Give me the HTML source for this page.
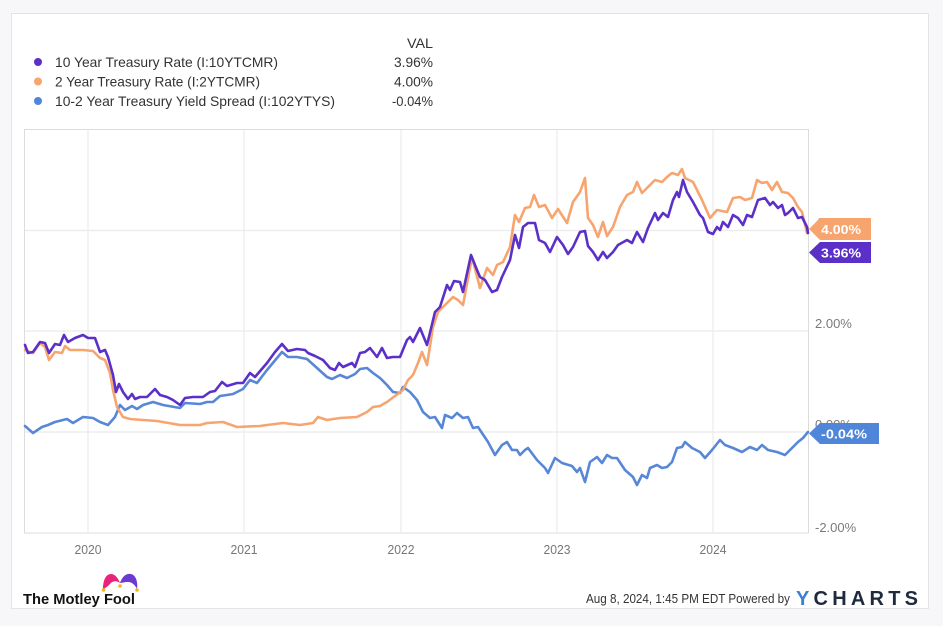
<!DOCTYPE html>
<html>
<head>
<meta charset="utf-8">
<style>
  html, body { margin: 0; padding: 0; background: #f7f7f9; }
  svg { display: block; }
  text { font-family: "Liberation Sans", "DejaVu Sans", sans-serif; }
</style>
</head>
<body>
<svg width="943" height="626" viewBox="0 0 943 626" xmlns="http://www.w3.org/2000/svg">
  <rect x="0" y="0" width="943" height="626" fill="#f7f7f9"/>
  <rect x="11.5" y="13.5" width="917" height="595" fill="#ffffff" stroke="#e4e4e6" stroke-width="1"/>

  <!-- Legend -->
  <text x="433" y="48" font-size="13.5" fill="#333" text-anchor="end" textLength="26" lengthAdjust="spacingAndGlyphs">VAL</text>
  <circle cx="38" cy="62" r="4" fill="#5b30c8"/>
  <text x="55" y="67" font-size="14" fill="#333" textLength="223" lengthAdjust="spacingAndGlyphs">10 Year Treasury Rate (I:10YTCMR)</text>
  <text x="433" y="67" font-size="13.5" fill="#333" text-anchor="end" textLength="39" lengthAdjust="spacingAndGlyphs">3.96%</text>
  <circle cx="38" cy="81.5" r="4" fill="#f8a46e"/>
  <text x="55" y="86.5" font-size="14" fill="#333" textLength="205" lengthAdjust="spacingAndGlyphs">2 Year Treasury Rate (I:2YTCMR)</text>
  <text x="433" y="86.5" font-size="13.5" fill="#333" text-anchor="end" textLength="39" lengthAdjust="spacingAndGlyphs">4.00%</text>
  <circle cx="38" cy="101" r="4" fill="#4f86d9"/>
  <text x="55" y="106" font-size="14" fill="#333" textLength="280" lengthAdjust="spacingAndGlyphs">10-2 Year Treasury Yield Spread (I:102YTYS)</text>
  <text x="433" y="106" font-size="13.5" fill="#333" text-anchor="end" textLength="41" lengthAdjust="spacingAndGlyphs">-0.04%</text>

  <!-- Plot frame -->
  <rect x="24.5" y="129.5" width="784" height="403.5" fill="#ffffff" stroke="#dcdcdc" stroke-width="1"/>
  <!-- gridlines -->
  <g stroke="#ebebeb" stroke-width="1.2">
    <line x1="25" y1="230.5" x2="808" y2="230.5"/>
    <line x1="25" y1="331" x2="808" y2="331"/>
    <line x1="25" y1="432" x2="808" y2="432"/>
    <line x1="88" y1="130" x2="88" y2="532"/>
    <line x1="244" y1="130" x2="244" y2="532"/>
    <line x1="401" y1="130" x2="401" y2="532"/>
    <line x1="557" y1="130" x2="557" y2="532"/>
    <line x1="713" y1="130" x2="713" y2="532"/>
  </g>

  <!-- Right axis labels -->
  <g font-size="13" fill="#7a7a7a">
    <text x="815" y="227">4.00%</text>
    <text x="815" y="328">2.00%</text>
    <text x="815" y="429">0.00%</text>
    <text x="815" y="532">-2.00%</text>
  </g>

  <!-- Year labels -->
  <g font-size="13" fill="#777" text-anchor="middle">
    <text x="88" y="554" textLength="27" lengthAdjust="spacingAndGlyphs">2020</text>
    <text x="244" y="554" textLength="27" lengthAdjust="spacingAndGlyphs">2021</text>
    <text x="401" y="554" textLength="27" lengthAdjust="spacingAndGlyphs">2022</text>
    <text x="557" y="554" textLength="27" lengthAdjust="spacingAndGlyphs">2023</text>
    <text x="713" y="554" textLength="27" lengthAdjust="spacingAndGlyphs">2024</text>
  </g>

  <!-- Series -->
  <g fill="none" stroke-width="2.6" stroke-linejoin="round" stroke-linecap="round">
    <polyline stroke="#5887d6" points="25,426 33,433 42,427 48,425 55,422 67,419 73,423 83,417 93,418 100,422 108,425 115,417 120,405 125,410 132,406 137,409 143,405 153,402 163,405 180,408 185,403 200,404 207,402 213,402 220,396 227,395 233,394 243,389 250,380 257,383 267,370 277,358 282,352 288,357 297,357 307,359 317,368 327,377 332,379 340,375 347,378 355,374 360,369 367,368 373,373 380,378 387,385 393,392 400,393 403,387 410,392 417,400 423,412 430,418 435,417 442,428 445,415 452,418 457,413 463,418 468,417 473,428 478,427 488,442 495,455 502,445 507,442 512,450 517,450 520,455 525,450 528,448 537,460 545,468 548,473 555,458 562,463 572,466 577,472 580,468 585,482 590,462 597,457 602,463 607,455 612,458 617,458 625,470 633,477 637,485 642,475 647,478 650,468 657,465 662,468 667,467 672,462 677,448 682,447 685,442 692,448 700,452 705,458 712,450 720,440 725,445 733,448 742,452 750,447 757,450 762,445 768,450 777,452 785,455 792,448 798,442 803,438 808,432"/>
    <polyline stroke="#f8a46e" points="25,350 30,352 33,353 40,343 45,347 49,360 55,352 62,353 65,346 70,350 83,350 93,351 100,358 105,360 110,373 113,390 117,407 123,417 130,419 143,420 157,421 180,425 200,425 207,423 223,422 237,427 260,426 267,425 283,423 300,425 313,423 318,417 327,420 340,418 357,417 367,412 373,407 380,406 387,402 395,396 403,390 408,380 413,375 418,363 422,352 427,365 433,327 438,312 445,305 453,297 458,300 463,305 472,257 480,288 487,268 493,275 497,265 503,262 510,247 515,215 519,222 525,208 530,207 534,195 539,207 545,205 552,218 558,209 567,223 573,202 580,192 585,178 588,218 593,225 598,237 603,222 607,236 613,227 620,207 627,195 633,192 637,182 642,193 648,187 655,180 662,182 667,177 672,173 678,175 682,169 685,178 693,182 702,200 710,218 717,210 727,212 733,198 740,197 745,200 752,198 757,180 762,183 767,182 772,190 777,182 782,192 788,193 793,198 798,207 802,212 807,233 808,229"/>
    <polyline stroke="#5b30c8" points="25,345 28,353 33,352 40,342 45,343 49,353 55,344 60,345 64,335 68,342 75,338 83,335 88,338 95,338 100,352 105,350 108,357 113,375 116,392 119,384 123,392 128,399 132,394 135,399 140,397 147,397 155,389 160,395 167,397 173,400 180,405 185,398 193,397 203,397 210,392 215,391 222,382 227,386 237,383 243,383 250,373 255,377 267,363 275,352 282,344 288,351 297,349 305,350 308,353 315,356 323,360 330,368 335,370 339,363 343,367 352,363 355,367 360,353 365,352 370,348 377,357 382,348 387,358 393,357 400,357 407,340 410,337 413,342 420,328 427,345 435,312 440,307 447,285 450,290 454,281 460,282 463,292 471,255 477,270 480,277 485,280 492,292 497,290 502,277 510,260 515,235 519,248 523,227 528,223 535,223 539,240 545,243 550,252 557,237 563,245 568,254 573,247 580,232 585,231 588,246 593,252 598,260 603,252 607,258 613,252 618,245 627,240 632,243 637,232 643,242 648,228 655,213 658,220 663,213 668,217 673,200 677,192 679,197 683,180 687,192 693,202 700,215 703,218 708,232 713,234 717,227 720,230 723,222 728,227 733,215 738,218 743,225 747,215 752,217 758,200 765,198 770,205 773,202 778,208 782,205 785,215 788,213 793,208 798,218 802,217 807,227 808,233"/>
  </g>

  <!-- Value tags -->
  <polygon points="809,229 820,218 871,218 871,240 820,240" fill="#f8a46e"/>
  <text x="841" y="234" font-size="13" font-weight="bold" fill="#ffffff" text-anchor="middle" textLength="40" lengthAdjust="spacingAndGlyphs">4.00%</text>
  <polygon points="809,252.5 820,242 871,242 871,263 820,263" fill="#5b30c8"/>
  <text x="841" y="257.5" font-size="13" font-weight="bold" fill="#ffffff" text-anchor="middle" textLength="40" lengthAdjust="spacingAndGlyphs">3.96%</text>
  <polygon points="809,433.5 820,423 879,423 879,444 820,444" fill="#4f86d9"/>
  <text x="844" y="438.5" font-size="13" font-weight="bold" fill="#ffffff" text-anchor="middle" textLength="46" lengthAdjust="spacingAndGlyphs">-0.04%</text>

  <!-- Motley Fool logo -->
  <g>
    <path d="M103,589 C103,580 106,574 111,574 C115,574 118,578 120,583 C116,580 112,581 110,584 C108,586 106,588 103,589 Z" fill="#e8247a"/>
    <path d="M120,583 C122,577 126,573 131,574 C136,575 138,582 137,589 C135,585 132,582 128,582 C124,582 122,583 120,583 Z" fill="#6b3bd1"/>
    <circle cx="103.5" cy="590" r="1.8" fill="#f2b51a"/>
    <circle cx="120" cy="586" r="1.8" fill="#f2b51a"/>
    <circle cx="137" cy="590" r="1.8" fill="#f2b51a"/>
  </g>
  <text x="23" y="604" font-size="15" font-weight="bold" fill="#111" textLength="112" lengthAdjust="spacingAndGlyphs">The Motley Fool</text>

  <!-- Footer -->
  <text x="586" y="603" font-size="12.5" fill="#333" textLength="204" lengthAdjust="spacingAndGlyphs">Aug 8, 2024, 1:45 PM EDT Powered by</text>
  <text x="796" y="605" font-size="20" font-weight="bold" fill="#1f2a3c" textLength="122" lengthAdjust="spacing"><tspan fill="#3b7fd6">Y</tspan>CHARTS</text>
</svg>
</body>
</html>
